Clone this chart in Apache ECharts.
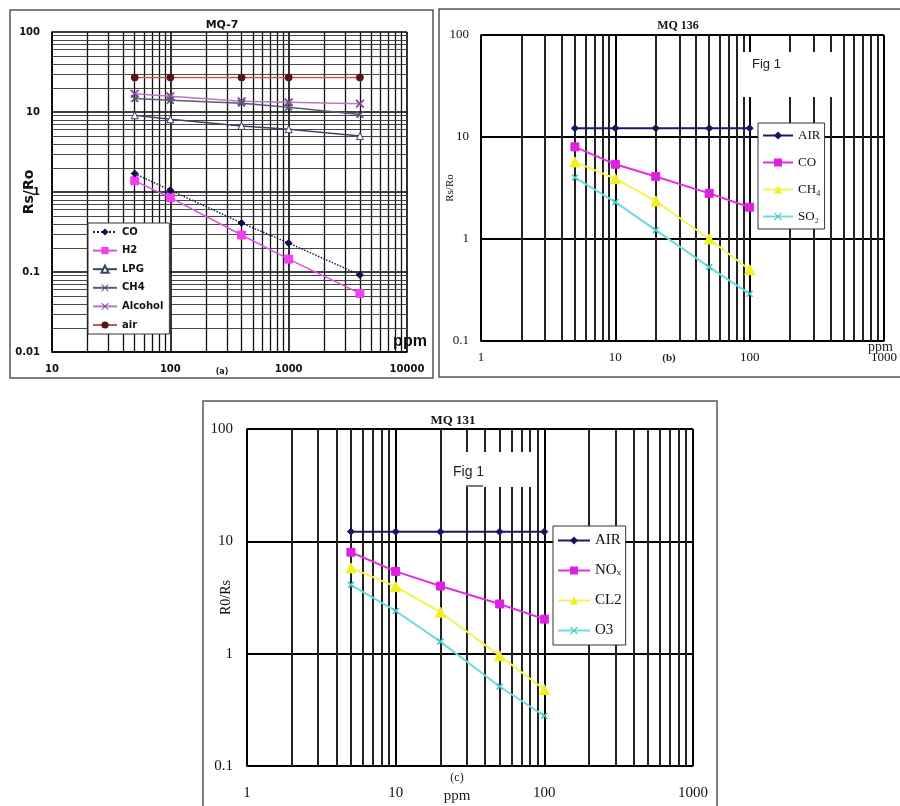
<!DOCTYPE html>
<html><head><meta charset="utf-8">
<script src="https://cdn.jsdelivr.net/npm/echarts@6/dist/echarts.min.js"></script>
<style>html,body{margin:0;padding:0;background:#fff}#c{width:900px;height:806px}</style>
</head><body><div id="c"></div>
<script>
// ---------- DATA ----------
// (a) MQ-7
const mq7Ppm = [50, 100, 400, 1000, 4000];
const mq7CO = [1.7, 1.05, 0.41, 0.23, 0.092];
const mq7H2 = [1.38, 0.85, 0.29, 0.145, 0.054];
const mq7LPG = [9.1, 8.1, 6.7, 6.1, 5.0];
const mq7CH4 = [14.7, 14.0, 12.9, 11.5, 9.3];
const mq7Alcohol = [16.9, 15.7, 13.6, 13.2, 12.7];
const mq7Air = [27, 27, 27, 27, 27];
const mq7XRange = [10, 10000];
const mq7YRange = [0.01, 100];

// (b) MQ 136
const mq136Ppm = [5, 10, 20, 50, 100];
const mq136AIR = [12.2, 12.2, 12.2, 12.2, 12.2];
const mq136CO = [8.0, 5.4, 4.1, 2.8, 2.05];
const mq136CH4 = [5.7, 3.9, 2.36, 1.0, 0.5];
const mq136SO2 = [4.0, 2.3, 1.22, 0.53, 0.29];
const mq136XRange = [1, 1000];
const mq136YRange = [0.1, 100];

// (c) MQ 131
const mq131Ppm = [5, 10, 20, 50, 100];
const mq131AIR = [12.2, 12.2, 12.2, 12.2, 12.2];
const mq131NOx = [8.0, 5.4, 4.0, 2.77, 2.03];
const mq131CL2 = [5.8, 3.95, 2.34, 0.96, 0.48];
const mq131O3 = [4.1, 2.4, 1.28, 0.51, 0.28];
const mq131XRange = [1, 1000];
const mq131YRange = [0.1, 100];

// ---------- helpers ----------
function minorLines(lo, hi) {
  const out = [];
  for (let e = Math.round(Math.log10(lo)); e < Math.round(Math.log10(hi)); e++)
    for (let m = 2; m <= 9; m++) out.push(+(m * Math.pow(10, e)).toPrecision(3));
  return out;
}
const pts = (xs, ys) => xs.map((x, i) => [x, ys[i]]);
const fmt = v => String(+(+v).toPrecision(3));
const XSYM = 'path://M0,1L1,0L5,4L9,0L10,1L6,5L10,9L9,10L5,6L1,10L0,9L4,5Z';

function gridSeries(gi, xLines, yLines, vStyle, hStyle) {
  const data = [];
  xLines.forEach(v => data.push({ xAxis: v, lineStyle: vStyle }));
  (yLines || []).forEach(v => data.push({ yAxis: v, lineStyle: hStyle }));
  return {
    type: 'line', name: 'grid' + gi, xAxisIndex: gi, yAxisIndex: gi, data: [], silent: true, z: 1,
    markLine: { silent: true, symbol: ['none', 'none'], z: 1, label: { show: false },
      emphasis: { disabled: true }, animation: false, data: data }
  };
}
function ser(name, gi, xs, ys, o) {
  return {
    type: 'line', name: name, xAxisIndex: gi, yAxisIndex: gi, data: pts(xs, ys), z: 5,
    symbol: o.symbol, symbolSize: o.size, showAllSymbol: true,
    lineStyle: { color: o.line, width: o.width || 1.5, type: o.type || 'solid' },
    itemStyle: o.empty ? { color: '#fff', borderColor: o.mark, borderWidth: 1 } : { color: o.mark, borderColor: o.mark },
    emphasis: { disabled: true }, animation: false
  };
}

const boldSans = 'DejaVu Sans';
const serif = 'Liberation Serif';

function xAx(gi, range, font, size, bold, margin, splitW) {
  return { type: 'log', logBase: 10, gridIndex: gi, min: range[0], max: range[1],
    axisLine: { show: true, lineStyle: { color: '#000', width: 1.5 } }, axisTick: { show: false },
    axisLabel: { formatter: fmt, fontFamily: font, fontSize: size, fontWeight: bold ? 'bold' : 'normal', color: '#111', margin: margin, showMinLabel: true, showMaxLabel: true },
    splitLine: { show: true, lineStyle: { color: '#000', width: splitW } } };
}
function yAx(gi, range, font, size, bold, margin, name, nameFont, nameSize, nameBold, nameGap, splitW) {
  return { type: 'log', logBase: 10, gridIndex: gi, min: range[0], max: range[1],
    name: name, nameLocation: 'middle', nameRotate: 90, nameGap: nameGap, nameMoveOverlap: false,
    nameTextStyle: { fontFamily: nameFont, fontSize: nameSize, fontWeight: nameBold ? 'bold' : 'normal', color: '#111' },
    axisLine: { show: true, lineStyle: { color: '#000', width: 1.5 } }, axisTick: { show: false },
    axisLabel: { formatter: fmt, fontFamily: font, fontSize: size, fontWeight: bold ? 'bold' : 'normal', color: '#111', margin: margin, showMinLabel: true, showMaxLabel: true },
    splitLine: { show: true, lineStyle: { color: '#000', width: splitW } } };
}

const legendFmt = n => n.split(':')[1];

const option = {
  backgroundColor: '#fff',
  animation: false,
  title: [
    { text: 'MQ-7', left: 217, top: 15, textAlign: 'center', textStyle: { fontFamily: boldSans, fontSize: 11, fontWeight: 'bold', color: '#111' } },
    { text: 'MQ 136', left: 673, top: 15, textAlign: 'center', textStyle: { fontFamily: serif, fontSize: 12, fontWeight: 'bold', color: '#111' } },
    { text: 'MQ 131', left: 448, top: 409, textAlign: 'center', textStyle: { fontFamily: serif, fontSize: 13, fontWeight: 'bold', color: '#111' } }
  ],
  grid: [
    { left: 52, top: 32, width: 355, height: 320, containLabel: false },
    { left: 481, top: 35, width: 408, height: 306, containLabel: false },
    { left: 247, top: 429, width: 446, height: 337, containLabel: false }
  ],
  xAxis: [
    xAx(0, mq7XRange, boldSans, 10, true, 12, 1.6),
    xAx(1, mq136XRange, serif, 13, false, 10, 2),
    xAx(2, mq131XRange, serif, 15, false, 20, 2)
  ],
  yAxis: [
    yAx(0, mq7YRange, boldSans, 10, true, 12, 'Rs/Ro', boldSans, 14, true, 16, 1.6),
    yAx(1, mq136YRange, serif, 13, false, 12, 'Rs/Ro', serif, 11, false, 25, 2),
    yAx(2, mq131YRange, serif, 15, false, 14, 'R0/Rs', serif, 14, false, 14, 2)
  ],
  legend: [
    { data: ['a:CO', 'a:H2', 'a:LPG', 'a:CH4', 'a:Alcohol', 'a:air'], formatter: legendFmt,
      orient: 'vertical', left: 88, top: 223, width: 80, itemWidth: 24, itemHeight: 9, itemGap: 8.6,
      padding: [4, 6, 4, 4], backgroundColor: '#fff', borderColor: '#333', borderWidth: 1,
      textStyle: { fontFamily: boldSans, fontSize: 10, fontWeight: 'bold', color: '#111' }, selectedMode: false, z: 20 },
    { data: ['b:AIR', 'b:CO', 'b:CH₄', 'b:SO₂'], formatter: legendFmt,
      orient: 'vertical', left: 758, top: 123, itemWidth: 30, itemHeight: 10, itemGap: 14,
      padding: [6, 4, 6, 4], backgroundColor: '#fff', borderColor: '#333', borderWidth: 1,
      textStyle: { fontFamily: serif, fontSize: 13, color: '#111' }, selectedMode: false, z: 20 },
    { data: ['c:AIR', 'c:NOₓ', 'c:CL2', 'c:O3'], formatter: legendFmt,
      orient: 'vertical', left: 553, top: 526, itemWidth: 32, itemHeight: 10, itemGap: 15,
      padding: [7, 4, 7, 4], backgroundColor: '#fff', borderColor: '#333', borderWidth: 1,
      textStyle: { fontFamily: serif, fontSize: 15, color: '#111' }, selectedMode: false, z: 20 }
  ],
  series: [
    gridSeries(0, minorLines(mq7XRange[0], mq7XRange[1]), minorLines(mq7YRange[0], mq7YRange[1]),
      { color: '#111', width: 1.3, type: 'solid' }, { color: '#333', width: 0.9, type: 'solid' }),
    gridSeries(1, minorLines(mq136XRange[0], mq136XRange[1]), [],
      { color: '#222', width: 2, type: 'solid' }, null),
    gridSeries(2, minorLines(mq131XRange[0], mq131XRange[1]), [],
      { color: '#222', width: 2, type: 'solid' }, null),

    ser('a:air', 0, mq7Ppm, mq7Air, { symbol: 'circle', size: 7, line: '#c25a5a', mark: '#5a1414' }),
    ser('a:Alcohol', 0, mq7Ppm, mq7Alcohol, { symbol: XSYM, size: 8, line: '#b07cc0', mark: '#8a4a9a' }),
    ser('a:CH4', 0, mq7Ppm, mq7CH4, { symbol: XSYM, size: 7, line: '#5a5a7a', mark: '#55557a' }),
    ser('a:LPG', 0, mq7Ppm, mq7LPG, { symbol: 'triangle', size: 7, line: '#3c4660', mark: '#3c4660', empty: true }),
    ser('a:H2', 0, mq7Ppm, mq7H2, { symbol: 'rect', size: 8, line: '#e050e0', mark: '#f040f0' }),
    ser('a:CO', 0, mq7Ppm, mq7CO, { symbol: 'diamond', size: 7, line: '#1a1a50', mark: '#0e0e48', type: 'dotted' }),

    ser('b:AIR', 1, mq136Ppm, mq136AIR, { symbol: 'diamond', size: 7, line: '#1a1a66', mark: '#141460', width: 2 }),
    ser('b:CO', 1, mq136Ppm, mq136CO, { symbol: 'rect', size: 8, line: '#e030e0', mark: '#e020e0', width: 2 }),
    ser('b:CH₄', 1, mq136Ppm, mq136CH4, { symbol: 'triangle', size: 10, line: '#f4f450', mark: '#f0f020', width: 2 }),
    ser('b:SO₂', 1, mq136Ppm, mq136SO2, { symbol: XSYM, size: 6, line: '#6cdcdc', mark: '#40c8c8', width: 2 }),

    ser('c:AIR', 2, mq131Ppm, mq131AIR, { symbol: 'diamond', size: 7, line: '#1a1a66', mark: '#141460', width: 2 }),
    ser('c:NOₓ', 2, mq131Ppm, mq131NOx, { symbol: 'rect', size: 8, line: '#e030e0', mark: '#e020e0', width: 2 }),
    ser('c:CL2', 2, mq131Ppm, mq131CL2, { symbol: 'triangle', size: 10, line: '#f4f450', mark: '#f0f020', width: 2 }),
    ser('c:O3', 2, mq131Ppm, mq131O3, { symbol: XSYM, size: 6, line: '#6cdcdc', mark: '#40c8c8', width: 2 })
  ],
  graphic: [
    // panel frames
    { type: 'rect', z: 100, silent: true, shape: { x: 10, y: 10, width: 423, height: 368 }, style: { fill: 'none', stroke: '#555', lineWidth: 1.5 } },
    { type: 'rect', z: 100, silent: true, shape: { x: 439, y: 9, width: 470, height: 368 }, style: { fill: 'none', stroke: '#555', lineWidth: 1.5 } },
    { type: 'rect', z: 100, silent: true, shape: { x: 203, y: 401, width: 514, height: 420 }, style: { fill: 'none', stroke: '#555', lineWidth: 1.5 } },
    // "Fig 1" boxes
    { type: 'rect', z: 90, silent: true, shape: { x: 742, y: 52, width: 90, height: 45 }, style: { fill: '#fff' } },
    { type: 'text', z: 95, silent: true, style: { x: 752, y: 64, text: 'Fig 1', fontFamily: 'Liberation Sans', fontSize: 13, fill: '#222', verticalAlign: 'middle' } },
    { type: 'rect', z: 90, silent: true, shape: { x: 446, y: 452, width: 89, height: 35 }, style: { fill: '#fff' } },
    { type: 'text', z: 95, silent: true, style: { x: 453, y: 472, text: 'Fig 1', fontFamily: 'Liberation Sans', fontSize: 14, fill: '#222', verticalAlign: 'middle' } },
    { type: 'line', z: 95, silent: true, shape: { x1: 466, y1: 486, x2: 483, y2: 486 }, style: { stroke: '#222', lineWidth: 1.2 } },
    // sub-captions and units
    { type: 'text', z: 95, silent: true, style: { x: 222, y: 372, text: '(a)', fontFamily: boldSans, fontSize: 8, fontWeight: 'bold', fill: '#222', align: 'center', verticalAlign: 'middle' } },
    { type: 'text', z: 95, silent: true, style: { x: 410, y: 342, text: 'ppm', fontFamily: 'Liberation Sans', fontSize: 16, fontWeight: 'bold', fill: '#111', align: 'center', verticalAlign: 'middle' } },
    { type: 'text', z: 95, silent: true, style: { x: 669, y: 358, text: '(b)', fontFamily: serif, fontSize: 11, fontWeight: 'bold', fill: '#222', align: 'center', verticalAlign: 'middle' } },
    { type: 'text', z: 95, silent: true, style: { x: 868, y: 347, text: 'ppm', fontFamily: serif, fontSize: 14, fill: '#222', verticalAlign: 'middle' } },
    { type: 'text', z: 95, silent: true, style: { x: 457, y: 778, text: '(c)', fontFamily: serif, fontSize: 12, fill: '#222', align: 'center', verticalAlign: 'middle' } },
    { type: 'text', z: 95, silent: true, style: { x: 457, y: 796, text: 'ppm', fontFamily: serif, fontSize: 15, fill: '#222', align: 'center', verticalAlign: 'middle' } }
  ]
};

const chart = echarts.init(document.getElementById('c'), null, { renderer: 'canvas' });
chart.setOption(option);
</script>
</body></html>
